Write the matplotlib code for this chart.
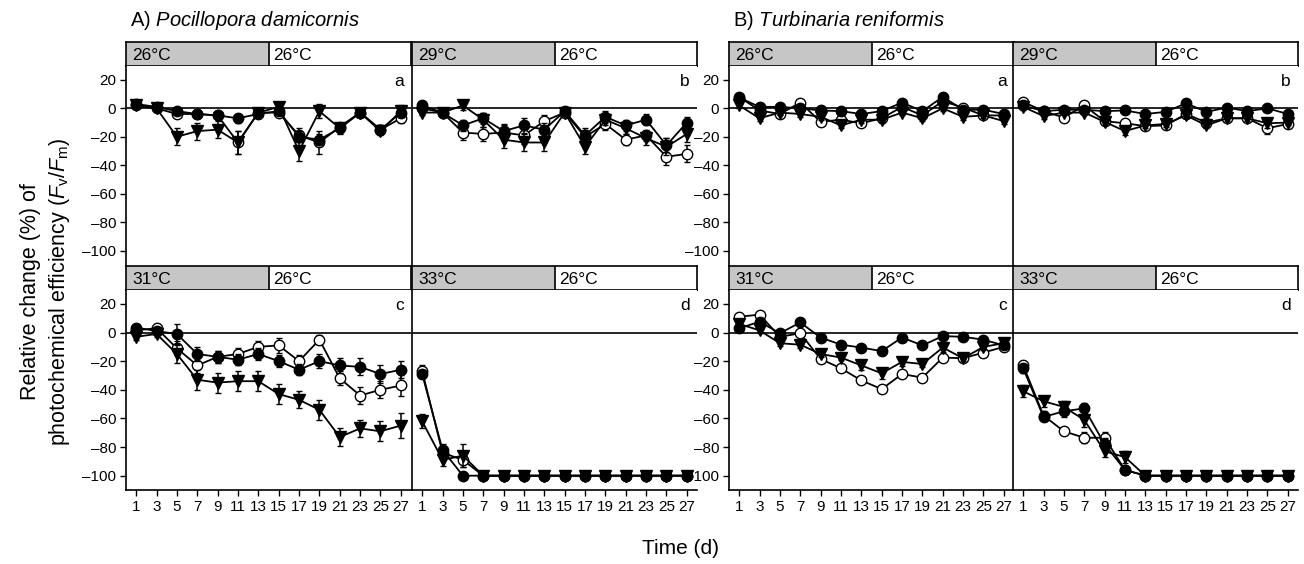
import matplotlib
matplotlib.use("Agg")
import matplotlib.pyplot as plt
from matplotlib.patches import Rectangle

plt.rcParams['font.family'] = ['Liberation Sans', 'DejaVu Sans']
plt.rcParams['mathtext.fontset'] = 'custom'
plt.rcParams['mathtext.rm'] = 'Liberation Sans'
plt.rcParams['mathtext.it'] = 'Liberation Sans:italic'

days = [1, 3, 5, 7, 9, 11, 13, 15, 17, 19, 21, 23, 25, 27]
xtick_labels = [str(d) for d in days]
yticks = [20, 0, -20, -40, -60, -80, -100]

# ---------------- A) Pocillopora damicornis ----------------
pd26_filled = [3, 1, -2, -4, -5, -7, -4, -2, -20, -22, -14, -3, -15, -3]
pd26_open = [2, 0, -4, -4, -5, -24, -3, -3, -19, -24, -13, -3, -15, -7]
pd26_tri = [2, 0, -20, -16, -15, -24, -3, 1, -30, -2, -14, -3, -16, -2]
pd26_err_filled = [2, 2, 2, 2, 2, 3, 2, 2, 4, 4, 3, 2, 3, 2]
pd26_err_open = [2, 2, 2, 2, 2, 8, 2, 2, 5, 8, 3, 2, 3, 3]
pd26_err_tri = [2, 2, 6, 6, 6, 8, 3, 3, 7, 5, 4, 2, 3, 4]

pd29_filled = [2, -3, -12, -7, -16, -12, -15, -2, -19, -6, -12, -8, -26, -10]
pd29_open = [0, -3, -17, -18, -17, -19, -9, -3, -20, -11, -22, -19, -34, -32]
pd29_tri = [-3, -3, 2, -8, -22, -24, -24, -3, -27, -8, -14, -21, -27, -18]
pd29_err_filled = [2, 2, 4, 4, 5, 5, 5, 2, 5, 4, 4, 4, 5, 4]
pd29_err_open = [2, 2, 5, 5, 5, 6, 4, 2, 5, 4, 4, 4, 6, 6]
pd29_err_tri = [2, 2, 3, 5, 6, 6, 6, 2, 5, 4, 4, 5, 6, 6]

pd31_filled = [3.5, 1, -1, -15, -17, -19, -15, -20, -26, -20, -23, -24, -29, -26]
pd31_open = [1.5, 3, -11, -23, -17, -15, -10, -9, -20, -5, -32, -44, -40, -37]
pd31_tri = [-3, -1, -15, -33, -35, -34, -34, -43, -47, -54, -73, -67, -69, -65]
pd31_err_filled = [2, 2, 7, 5, 4, 4, 4, 4, 4, 5, 5, 6, 6, 6]
pd31_err_open = [2, 2, 5, 5, 4, 4, 4, 5, 4, 3, 5, 6, 6, 7]
pd31_err_tri = [2, 2, 6, 7, 7, 7, 7, 7, 6, 7, 6, 6, 7, 9]

pd33_filled = [-29, -82, -100, -100, -100, -100, -100, -100, -100, -100, -100, -100, -100, -100]
pd33_open = [-27, -84, -89, -100, -100, -100, -100, -100, -100, -100, -100, -100, -100, -100]
pd33_tri = [-62, -89, -86, -100, -100, -100, -100, -100, -100, -100, -100, -100, -100, -100]
pd33_err_filled = [3, 4, 0, 0, 0, 0, 0, 0, 0, 0, 0, 0, 0, 0]
pd33_err_open = [4, 4, 5, 0, 0, 0, 0, 0, 0, 0, 0, 0, 0, 0]
pd33_err_tri = [5, 4, 8, 0, 0, 0, 0, 0, 0, 0, 0, 0, 0, 0]

# ---------------- B) Turbinaria reniformis ----------------
tr26_filled = [7.5, 1, 1, 0, -1.5, -2, -4, -2, 4, -2, 8, -1, -1, -4]
tr26_open = [8, -1.5, -4, 4, -9.5, -8, -10.5, -7, 1, -5, 5, 0.5, -5, -5]
tr26_tri = [2, -7, -3, -4, -6, -12, -8, -8, -3, -7, 0, -6, -5, -9]
tr26_err_filled = [2, 2, 2, 2, 2, 2, 2, 2, 2, 2, 2, 2, 2, 2]
tr26_err_open = [2, 2, 2, 2, 2, 2, 2, 2, 2, 2, 2, 2, 2, 2]
tr26_err_tri = [2, 2, 2, 2, 2, 2, 2, 2, 2, 2, 2, 2, 2, 2]

tr29_filled = [2, -2, -1, -1, -2, -1.5, -4, -2.5, 3.5, -2.5, 0.5, -2, 0, -4]
tr29_open = [4.5, -2, -6.5, 2, -9, -10.5, -12.5, -12, -4, -10, -7, -7, -14, -11]
tr29_tri = [1, -5.5, -3, -3, -9.5, -16, -12, -11, -5, -12, -7, -7, -10.5, -10]
tr29_err_filled = [2, 2, 2, 2, 2, 2, 2, 2, 2, 2, 2, 2, 2, 2]
tr29_err_open = [2, 2, 2, 2, 2, 3, 2, 2, 2, 2, 2, 2, 4, 3]
tr29_err_tri = [2, 2, 2, 2, 2, 3, 2, 2, 2, 2, 2, 2, 3, 2]

tr31_filled = [3, 7.5, -0.5, 7, -3.5, -8.5, -10.5, -13, -3.5, -9, -2.5, -3, -5, -9]
tr31_open = [11, 12.5, -3, -0.5, -18.5, -25, -33.5, -39.5, -29, -31.5, -17.5, -18, -14, -10]
tr31_tri = [6, 1.5, -7.5, -8.5, -15, -17.5, -23, -28.5, -20.5, -22, -10.5, -18, -10, -7.5]
tr31_err_filled = [2, 2, 2, 2, 2, 2, 2, 2, 2, 2, 2, 2, 2, 2]
tr31_err_open = [2, 2, 2, 2, 2, 2, 2, 2, 2, 2, 2, 2, 3, 2]
tr31_err_tri = [2, 2, 2, 2, 2, 2, 3, 4, 3, 2, 3, 2, 2, 2]

tr33_filled = [-25, -59, -55, -53, -78, -96, -100, -100, -100, -100, -100, -100, -100, -100]
tr33_open = [-23, -58, -69, -73.5, -73.5, -96, -100, -100, -100, -100, -100, -100, -100, -100]
tr33_tri = [-41, -48, -52, -61, -83, -87, -100, -100, -100, -100, -100, -100, -100, -100]
tr33_err_filled = [3, 3, 4, 4, 4, 2, 0, 0, 0, 0, 0, 0, 0, 0]
tr33_err_open = [3, 3, 2, 4, 4, 2, 0, 0, 0, 0, 0, 0, 0, 0]
tr33_err_tri = [4, 4, 4, 5, 4, 4, 0, 0, 0, 0, 0, 0, 0, 0]

panels = [
    (126, 0, 'a', '26°C', '26°C',
     (pd26_filled, pd26_open, pd26_tri, pd26_err_filled, pd26_err_open, pd26_err_tri), True),
    (412, 0, 'b', '29°C', '26°C',
     (pd29_filled, pd29_open, pd29_tri, pd29_err_filled, pd29_err_open, pd29_err_tri), False),
    (126, 1, 'c', '31°C', '26°C',
     (pd31_filled, pd31_open, pd31_tri, pd31_err_filled, pd31_err_open, pd31_err_tri), True),
    (412, 1, 'd', '33°C', '26°C',
     (pd33_filled, pd33_open, pd33_tri, pd33_err_filled, pd33_err_open, pd33_err_tri), False),
    (729, 0, 'a', '26°C', '26°C',
     (tr26_filled, tr26_open, tr26_tri, tr26_err_filled, tr26_err_open, tr26_err_tri), True),
    (1013, 0, 'b', '29°C', '26°C',
     (tr29_filled, tr29_open, tr29_tri, tr29_err_filled, tr29_err_open, tr29_err_tri), False),
    (729, 1, 'c', '31°C', '26°C',
     (tr31_filled, tr31_open, tr31_tri, tr31_err_filled, tr31_err_open, tr31_err_tri), True),
    (1013, 1, 'd', '33°C', '26°C',
     (tr33_filled, tr33_open, tr33_tri, tr33_err_filled, tr33_err_open, tr33_err_tri), False),
]

W, H = 1304, 564
fig = plt.figure(figsize=(W / 100, H / 100), dpi=100)

panel_w = 285
rows = {0: (42, 66, 265), 1: (266, 290, 490)}  # header top, plot top, plot bottom

tick_font = dict(family=['Liberation Sans Narrow', 'Liberation Sans'], size=11)

for left, row, letter, hl, hr, data, show_y in panels:
    htop, ptop, pbot = rows[row]
    hax = fig.add_axes([left / W, 1 - ptop / H, panel_w / W, (ptop - htop) / H])
    hax.set_xlim(0, 28)
    hax.set_ylim(0, 1)
    hax.add_patch(Rectangle((0, 0), 14, 1, facecolor='#c6c6c6', edgecolor='none'))
    hax.axvline(14, color='black', lw=1.2)
    hax.set_xticks([])
    hax.set_yticks([])
    for s in hax.spines.values():
        s.set_linewidth(1.2)
    hax.text(0.6, 0.45, hl, fontsize=12.5, va='center', ha='left')
    hax.text(14.5, 0.45, hr, fontsize=12.5, va='center', ha='left')

    ax = fig.add_axes([left / W, 1 - pbot / H, panel_w / W, (pbot - ptop) / H])
    ax.set_xlim(0, 28)
    ax.set_ylim(-110, 29.7)
    ax.axhline(0, color='black', lw=1.2, zorder=1)
    f, o, t, ef, eo, et = data
    common = dict(color='black', lw=1.3, capsize=2.2, elinewidth=1.1, capthick=1.1,
                  markeredgecolor='black', markeredgewidth=1.0)
    ax.errorbar(days, o, yerr=eo, marker='o', markersize=7.5, markerfacecolor='white',
                zorder=3, **common)
    ax.errorbar(days, t, yerr=et, marker='v', markersize=8, markerfacecolor='black',
                zorder=4, **common)
    ax.errorbar(days, f, yerr=ef, marker='o', markersize=7.5, markerfacecolor='black',
                zorder=5, **common)
    ax.text(0.975, 0.96, letter, transform=ax.transAxes, ha='right', va='top', fontsize=12.5)

    ax.spines['top'].set_visible(False)
    ax.spines['right'].set_visible(False)
    ax.spines['left'].set_linewidth(1.2)
    ax.spines['bottom'].set_linewidth(1.2)
    if row == 0:
        ax.spines['bottom'].set_visible(False)
        ax.set_xticks([])
    else:
        ax.set_xticks(days)
        ax.set_xticklabels(xtick_labels, **tick_font)
        ax.tick_params(axis='x', direction='out', length=4, width=1, pad=3)
    if show_y:
        ax.set_yticks(yticks)
        ax.set_yticklabels(['20', '0', '–20', '–40', '–60', '–80', '–100'], fontsize=11,
                           family=['Liberation Sans Narrow', 'Liberation Sans'])
        ax.tick_params(axis='y', direction='out', length=4, width=1, pad=3)
    else:
        ax.set_yticks([])

fig.text(130 / W, 1 - 20 / H, 'A) $\\mathit{Pocillopora\\ damicornis}$', fontsize=14.5,
         ha='left', va='center')
fig.text(733 / W, 1 - 20 / H, 'B) $\\mathit{Turbinaria\\ reniformis}$', fontsize=14.5,
         ha='left', va='center')
fig.text(680 / W, 1 - 548 / H, 'Time (d)', fontsize=15, ha='center', va='center')
fig.text(46 / W, 1 - 292 / H,
         'Relative change (%) of\nphotochemical efficiency ($\\mathit{F}_{\\rm v}/\\mathit{F}_{\\rm m}$)',
         fontsize=15.5, rotation=90, ha='center', va='center', multialignment='center',
         linespacing=1.3)

fig.savefig('out.png', dpi=100)
